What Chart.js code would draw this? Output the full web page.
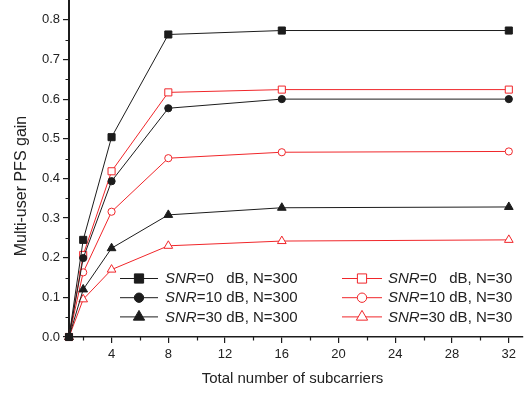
<!DOCTYPE html>
<html>
<head>
<meta charset="utf-8">
<script src="https://cdn.jsdelivr.net/npm/chart.js@4"></script>
<style>
  html, body { margin: 0; padding: 0; background: #fff; }
  #wrap { width: 530px; height: 394px; }
</style>
</head>
<body>
<div id="wrap"><canvas id="gainChart"></canvas></div>
<script>
const subcarriers = [1, 2, 4, 8, 16, 32];
const snr0N300 = [0, 0.245, 0.504, 0.763, 0.773, 0.773];
const snr10N300 = [0, 0.199, 0.393, 0.577, 0.600, 0.600];
const snr30N300 = [0, 0.120, 0.224, 0.308, 0.326, 0.328];
const snr0N30 = [0, 0.207, 0.418, 0.617, 0.624, 0.624];
const snr10N30 = [0, 0.163, 0.316, 0.451, 0.466, 0.468];
const snr30N30 = [0, 0.095, 0.170, 0.230, 0.242, 0.245];
const xTicks = [4, 8, 12, 16, 20, 24, 28, 32];
const xMinorTicks = [2, 6, 10, 14, 18, 22, 26, 30];
const yTicks = [0, 0.1, 0.2, 0.3, 0.4, 0.5, 0.6, 0.7, 0.8];
const yMinorTicks = [0.05, 0.15, 0.25, 0.35, 0.45, 0.55, 0.65, 0.75];
const legendLabels = ['=0   dB, N=300', '=10 dB, N=300', '=30 dB, N=300',
                      '=0   dB, N=30', '=10 dB, N=30', '=30 dB, N=30'];
const xTitle = 'Total number of subcarriers';
const yTitle = 'Multi-user PFS gain';

const BLACK = '#1c1c1c';
const RED = '#f0262a';
const FONT = '"Liberation Sans", Arial, sans-serif';

function series(label, data, color, style, radius, open) {
  return {
    label: label,
    data: subcarriers.map((x, i) => ({ x: x, y: data[i] })),
    borderColor: color,
    borderWidth: 1,
    backgroundColor: open ? '#fff' : color,
    pointStyle: style,
    pointRadius: radius,
    pointHoverRadius: radius,
    pointBorderWidth: 1,
    pointBorderColor: color,
    pointBackgroundColor: open ? '#fff' : color,
    tension: 0,
    clip: false,
  };
}

function marker(ctx, style, x, y, r, color, open) {
  ctx.save();
  ctx.beginPath();
  if (style === 'rect') {
    const h = r * Math.SQRT1_2;
    ctx.rect(x - h, y - h, 2 * h, 2 * h);
  } else if (style === 'circle') {
    ctx.arc(x, y, r, 0, Math.PI * 2);
  } else {
    for (let k = 0; k < 3; k++) {
      const a = k * 2 * Math.PI / 3;
      const px = x + Math.sin(a) * r, py = y - Math.cos(a) * r;
      if (k === 0) ctx.moveTo(px, py); else ctx.lineTo(px, py);
    }
    ctx.closePath();
  }
  ctx.fillStyle = open ? '#fff' : color;
  ctx.fill();
  ctx.lineWidth = 1;
  ctx.strokeStyle = color;
  ctx.stroke();
  ctx.restore();
}

// minor ticks + axis titles
const axisExtras = {
  id: 'axisExtras',
  afterDraw(chart) {
    const ctx = chart.ctx;
    const xs = chart.scales.x, ys = chart.scales.y;
    ctx.save();
    ctx.strokeStyle = BLACK;
    ctx.lineWidth = 1.2;
    ctx.beginPath();
    xMinorTicks.forEach(v => {
      const px = Math.round(xs.getPixelForValue(v)) + 0.5;
      ctx.moveTo(px, ys.bottom);
      ctx.lineTo(px, ys.bottom + 3.5);
    });
    yMinorTicks.forEach(v => {
      const py = Math.round(ys.getPixelForValue(v)) + 0.5;
      ctx.moveTo(xs.left, py);
      ctx.lineTo(xs.left - 3.5, py);
    });
    ctx.stroke();

    ctx.fillStyle = '#222';
    ctx.textAlign = 'center';
    ctx.textBaseline = 'middle';
    ctx.font = '15px ' + FONT;
    ctx.fillText(xTitle, 292.5, 378.5);
    ctx.translate(21.5, 186);
    ctx.rotate(-Math.PI / 2);
    ctx.font = '16px ' + FONT;
    ctx.fillText(yTitle, 0, 0);
    ctx.restore();
  }
};

const insideLegend = {
  id: 'insideLegend',
  afterDraw(chart) {
    const ctx = chart.ctx;
    ctx.save();
    chart.data.datasets.forEach((ds, i) => {
      const col = i < 3 ? 0 : 1;
      const row = i % 3;
      const y = 278 + row * 19.2;
      const x1 = col === 0 ? 120 : 342;
      const x2 = col === 0 ? 158 : 382;
      const tx = col === 0 ? 165 : 388;
      ctx.strokeStyle = ds.borderColor;
      ctx.lineWidth = 1;
      ctx.beginPath();
      ctx.moveTo(x1, y + 0.5);
      ctx.lineTo(x2, y + 0.5);
      ctx.stroke();
      const open = ds.pointBackgroundColor === '#fff';
      marker(ctx, ds.pointStyle, (x1 + x2) / 2, y + 0.5, ds.pointRadius * 1.3, ds.borderColor, open);
      ctx.fillStyle = '#222';
      ctx.textBaseline = 'middle';
      ctx.font = 'italic 15px ' + FONT;
      ctx.fillText('SNR', tx, y + 1);
      const w = ctx.measureText('SNR').width;
      ctx.font = '15px ' + FONT;
      ctx.fillText(legendLabels[i], tx + w, y + 1);
    });
    ctx.restore();
  }
};

new Chart(document.getElementById('gainChart'), {
  type: 'line',
  data: {
    datasets: [
      series('SNR=0 dB, N=300', snr0N300, BLACK, 'rect', 5, false),
      series('SNR=10 dB, N=300', snr10N300, BLACK, 'circle', 3.6, false),
      series('SNR=30 dB, N=300', snr30N300, BLACK, 'triangle', 5, false),
      series('SNR=0 dB, N=30', snr0N30, RED, 'rect', 5, true),
      series('SNR=10 dB, N=30', snr10N30, RED, 'circle', 3.6, true),
      series('SNR=30 dB, N=30', snr30N30, RED, 'triangle', 5, true),
    ],
  },
  options: {
    responsive: true, maintainAspectRatio: false, animation: false,
    layout: { autoPadding: false, padding: { left: 0, right: 7, top: 0, bottom: 0 } },
    plugins: { legend: { display: false }, tooltip: { enabled: false } },
    scales: {
      x: {
        type: 'linear', min: 1, max: 33,
        afterBuildTicks: s => { s.ticks = xTicks.map(v => ({ value: v })); },
        afterFit: s => { s.height = 57; s.paddingLeft = 0; s.paddingRight = 0; },
        border: { display: true, color: BLACK, width: 1.5 },
        grid: { drawOnChartArea: false, drawTicks: true, tickLength: 6, tickColor: BLACK, lineWidth: 1.2 },
        ticks: { color: '#222', padding: 4, maxRotation: 0, font: { family: FONT, size: 13 } },
      },
      y: {
        min: 0, max: 0.85,
        afterBuildTicks: s => { s.ticks = yTicks.map(v => ({ value: v })); },
        afterFit: s => { s.width = 69; s.paddingTop = 0; s.paddingBottom = 0; },
        border: { display: true, color: BLACK, width: 2 },
        grid: { drawOnChartArea: false, drawTicks: true, tickLength: 6, tickColor: BLACK, lineWidth: 1.2 },
        ticks: { color: '#222', padding: 3, font: { family: FONT, size: 13 },
                 callback: v => v.toFixed(1) },
      },
    },
  },
  plugins: [axisExtras, insideLegend],
});
</script>
</body>
</html>
